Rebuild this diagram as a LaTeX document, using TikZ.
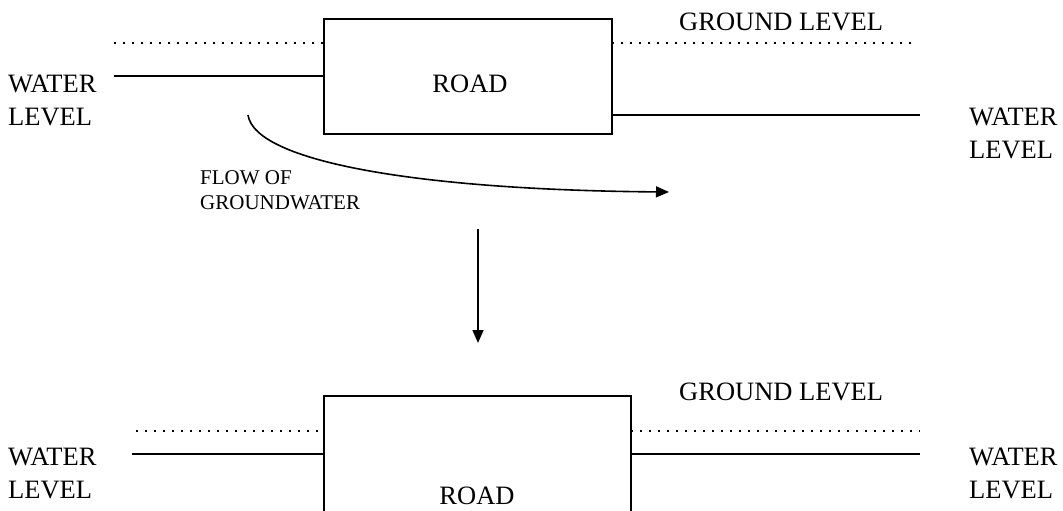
\documentclass[tikz,border=0pt]{standalone}
\usepackage{fontspec}
\setmainfont{Liberation Serif}
\usetikzlibrary{arrows.meta}
\begin{document}
\begin{tikzpicture}[x=1pt,y=-1pt,
  roadbox/.style={draw,line width=1.7pt,outer sep=0pt,inner sep=0pt,anchor=north west},
  lbl/.style={font=\fontsize{26.5}{32.5}\selectfont,inner sep=0pt,align=left,anchor=north west},
  small/.style={font=\fontsize{21}{25}\selectfont,inner sep=0pt,align=left,anchor=north west},
  roadtxt/.style={font=\fontsize{26.5}{30}\selectfont,inner sep=0pt},
  water/.style={line width=2pt},
  ground/.style={line width=1.6pt,dash pattern=on 1.6pt off 7.4pt},
  flow/.style={line width=1.6pt,-{Triangle[length=13pt,width=11pt]}}
]
\clip (0,0) rectangle (1063,511);
\fill[white] (0,0) rectangle (1063,511);

% ---------- top panel ----------
\node[roadbox,minimum width=288pt,minimum height=115pt] (box1) at (324,19) {};
\node[roadtxt] (road1) at (470,84) {ROAD};

\coordinate (gl1) at (114,43);
\coordinate (gr1) at (916,43);
\coordinate (wl1) at (114,76);
\coordinate (wr1) at (920,115);
\draw[ground] (gl1) -- (gl1 -| box1.west);
\draw[ground] (box1.east |- gr1) -- (gr1);
\draw[water] (wl1) -- (wl1 -| box1.west);
\draw[water] (box1.east |- wr1) -- (wr1);

\node[lbl] (gtop) at (679,13) {GROUND LEVEL};
\node[lbl] (wtl) at (8,75) {WATER\\LEVEL};
\node[lbl] (wtr) at (969,108) {WATER\\LEVEL};

\coordinate (c0) at (248,115);
\coordinate (c1) at (669,192);
\draw[flow] (c0) .. controls (255,162) and (420,190) .. (c1);
\node[small] (flowlbl) at (200,170) {FLOW OF\\GROUNDWATER};

% ---------- transition arrow ----------
\coordinate (a0) at (478,229);
\coordinate (a1) at (478,343);
\draw[flow] (a0) -- (a1);

% ---------- bottom panel ----------
\node[roadbox,minimum width=307pt,minimum height=160pt] (box2) at (324,396) {};
\node[roadtxt] (road2) at (477,496) {ROAD};

\coordinate (gl2) at (136,431);
\coordinate (gr2) at (920,431);
\coordinate (wl2) at (132,454);
\coordinate (wr2) at (920,454);
\draw[ground] (gl2) -- (gl2 -| box2.west);
\draw[ground] (box2.east |- gr2) -- (gr2);
\draw[water] (wl2) -- (wl2 -| box2.west);
\draw[water] (box2.east |- wr2) -- (wr2);

\node[lbl] (gbot) at (679,383) {GROUND LEVEL};
\node[lbl] (wbl) at (8,448) {WATER\\LEVEL};
\node[lbl] (wbr) at (969,448) {WATER\\LEVEL};
\end{tikzpicture}
\end{document}
